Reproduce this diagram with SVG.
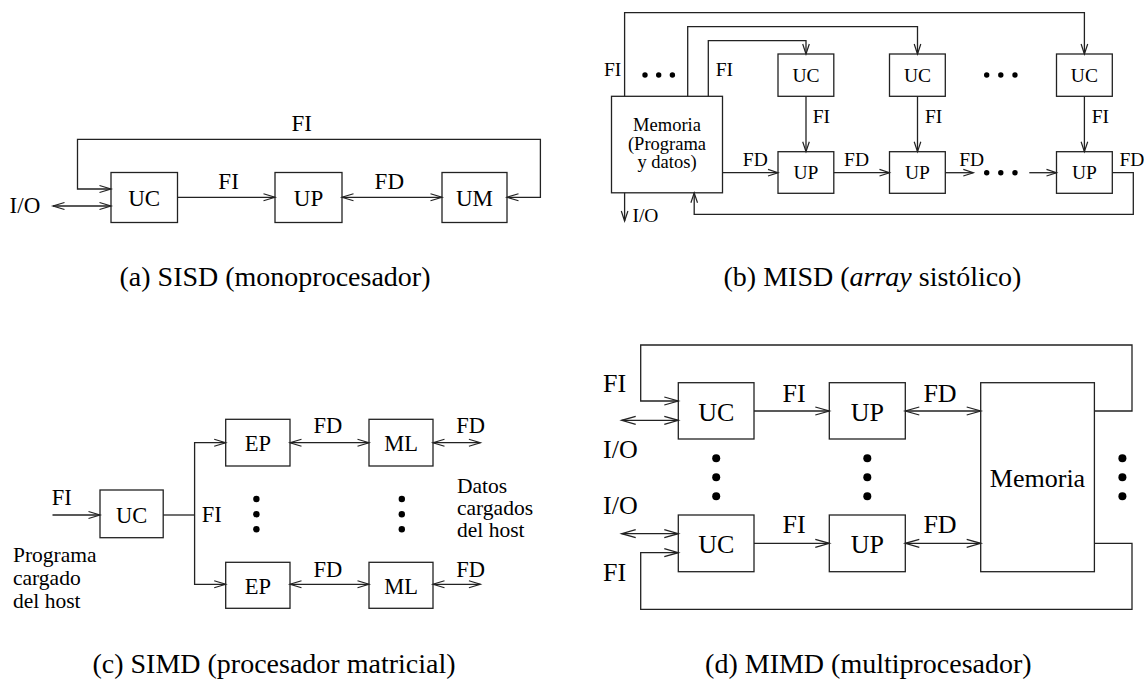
<svg xmlns="http://www.w3.org/2000/svg" width="1144" height="679" viewBox="0 0 1144 679" font-family="'Liberation Serif', 'Times New Roman', 'DejaVu Serif', serif">
<style>
.box{fill:#fff;stroke:#222;stroke-width:1.3}
.ln{fill:none;stroke:#222;stroke-width:1.3}
text{font-family:'Liberation Serif','Times New Roman','DejaVu Serif',serif;fill:#000}
.m{text-anchor:middle}
.ta{font-size:23px}
.tb{font-size:19.5px}
.tm{font-size:18.5px}
.tc{font-size:22.5px}
.ts{font-size:21.5px}
.td{font-size:26px}
.cap{font-size:28px;text-anchor:middle}
.dot{fill:#000}
.aa{marker-end:url(#am)}
.a2{marker-start:url(#am);marker-end:url(#am)}
.ba{marker-end:url(#as)}
.da{marker-end:url(#al)}
.d2{marker-start:url(#al);marker-end:url(#al)}
</style>
<defs>
<marker id="as" markerUnits="userSpaceOnUse" markerWidth="12" markerHeight="8" refX="0" refY="0" orient="auto-start-reverse" overflow="visible"><path d="M-10,-3.3 L0,0 L-10,3.3" fill="none" stroke="#222" stroke-width="1.2"/></marker>
<marker id="am" markerUnits="userSpaceOnUse" markerWidth="13" markerHeight="8" refX="0" refY="0" orient="auto-start-reverse" overflow="visible"><path d="M-11.5,-3.5 L0,0 L-11.5,3.5" fill="none" stroke="#222" stroke-width="1.2"/></marker>
<marker id="al" markerUnits="userSpaceOnUse" markerWidth="16" markerHeight="10" refX="0" refY="0" orient="auto-start-reverse" overflow="visible"><path d="M-14,-4 L0,0 L-14,4" fill="none" stroke="#222" stroke-width="1.3"/></marker>
</defs>

<!-- (a) SISD -->
<g id="a-uc"><rect class="box" x="111" y="172.5" width="66.5" height="50"/><text class="ta m" x="144.2" y="206">UC</text></g>
<g id="a-up"><rect class="box" x="275" y="172.5" width="67" height="50"/><text class="ta m" x="308.5" y="206">UP</text></g>
<g id="a-um"><rect class="box" x="442" y="172.5" width="65" height="50"/><text class="ta m" x="474.5" y="206">UM</text></g>
<g id="a-connectors">
<line class="ln a2" x1="53" y1="206" x2="111" y2="206"/>
<path class="ln a2" d="M111,189 H77.5 V139.3 H540.4 V197.3 H507"/>
<line class="ln aa" x1="177.5" y1="197.3" x2="275" y2="197.3"/>
<line class="ln a2" x1="342" y1="197.3" x2="442" y2="197.3"/>
</g>
<g id="a-labels">
<text class="ta" x="9.6" y="213.3">I/O</text>
<text class="ta m" x="301.8" y="130.7">FI</text>
<text class="ta m" x="228.6" y="189.3">FI</text>
<text class="ta m" x="389.3" y="189.3">FD</text>
</g>
<text class="cap" x="275" y="285.7">(a) SISD (monoprocesador)</text>

<!-- (b) MISD -->
<g id="b-mem"><rect class="box" x="611.5" y="96.3" width="111" height="96.5"/>
<text class="tm m" x="667" y="130.5">Memoria</text>
<text class="tm m" x="667" y="149.5">(Programa</text>
<text class="tm m" x="667" y="168">y datos)</text></g>
<g id="b-uc1"><rect class="box" x="778" y="54" width="55.8" height="42.3"/><text class="tb m" x="806" y="81.7">UC</text></g>
<g id="b-uc2"><rect class="box" x="889.5" y="54" width="55.8" height="42.3"/><text class="tb m" x="917.5" y="81.7">UC</text></g>
<g id="b-uc3"><rect class="box" x="1056.5" y="54" width="55.8" height="42.3"/><text class="tb m" x="1084.4" y="81.7">UC</text></g>
<g id="b-up1"><rect class="box" x="778" y="151.7" width="55.8" height="41.6"/><text class="tb m" x="806" y="179.3">UP</text></g>
<g id="b-up2"><rect class="box" x="889.5" y="151.7" width="55.8" height="41.6"/><text class="tb m" x="917.5" y="179.3">UP</text></g>
<g id="b-up3"><rect class="box" x="1056.5" y="151.7" width="55.8" height="41.6"/><text class="tb m" x="1084.4" y="179.3">UP</text></g>
<g id="b-connectors">
<path class="ln ba" d="M624.6,96.3 V12.7 H1084.4 V54"/>
<path class="ln ba" d="M687.7,96.3 V26.7 H917.5 V54"/>
<path class="ln ba" d="M708.3,96.3 V40.7 H806 V54"/>
<line class="ln ba" x1="806" y1="96.3" x2="806" y2="151.7"/>
<line class="ln ba" x1="917.5" y1="96.3" x2="917.5" y2="151.7"/>
<line class="ln ba" x1="1084.4" y1="96.3" x2="1084.4" y2="151.7"/>
<line class="ln ba" x1="722.5" y1="172.7" x2="778" y2="172.7"/>
<line class="ln ba" x1="833.8" y1="172.7" x2="889.5" y2="172.7"/>
<line class="ln ba" x1="945.3" y1="172.7" x2="973.3" y2="172.7"/>
<line class="ln ba" x1="1029.3" y1="172.7" x2="1056.5" y2="172.7"/>
<path class="ln ba" d="M1112.3,172.7 H1133.3 V214.3 H694.2 V192.8"/>
<line class="ln ba" x1="624.6" y1="192.8" x2="624.6" y2="221"/>
</g>
<g id="b-labels">
<text class="tb" x="604" y="75.7">FI</text>
<text class="tb" x="715.7" y="75.7">FI</text>
<circle class="dot" cx="645" cy="75" r="2.7"/><circle class="dot" cx="658.7" cy="75" r="2.7"/><circle class="dot" cx="672.4" cy="75" r="2.7"/>
<circle class="dot" cx="986.7" cy="75" r="2.7"/><circle class="dot" cx="1000.8" cy="75" r="2.7"/><circle class="dot" cx="1015" cy="75" r="2.7"/>
<circle class="dot" cx="986.7" cy="172.7" r="2.7"/><circle class="dot" cx="1000.8" cy="172.7" r="2.7"/><circle class="dot" cx="1015" cy="172.7" r="2.7"/>
<text class="tb" x="812.7" y="123.3">FI</text>
<text class="tb" x="925" y="123.3">FI</text>
<text class="tb" x="1091.7" y="123.3">FI</text>
<text class="tb m" x="755.3" y="166">FD</text>
<text class="tb m" x="856.5" y="166">FD</text>
<text class="tb m" x="971.7" y="166">FD</text>
<text class="tb" x="1119.5" y="166">FD</text>
<text class="tb" x="632.4" y="221.5">I/O</text>
</g>
<text class="cap" x="872.5" y="285.7">(b) MISD (<tspan font-style="italic">array</tspan> sistólico)</text>

<!-- (c) SIMD -->
<g id="c-uc"><rect class="box" x="100" y="490" width="63.2" height="47.7"/><text class="tc m" x="131.6" y="523">UC</text></g>
<g id="c-ep1"><rect class="box" x="225.7" y="419.3" width="64.3" height="46.7"/><text class="tc m" x="257.9" y="450.5">EP</text></g>
<g id="c-ep2"><rect class="box" x="225.7" y="562.3" width="64.3" height="46"/><text class="tc m" x="257.9" y="593.5">EP</text></g>
<g id="c-ml1"><rect class="box" x="369" y="419.3" width="64" height="46.7"/><text class="tc m" x="401" y="450.5">ML</text></g>
<g id="c-ml2"><rect class="box" x="369" y="562.3" width="64" height="46"/><text class="tc m" x="401" y="593.5">ML</text></g>
<g id="c-connectors">
<line class="ln aa" x1="52.5" y1="515" x2="100" y2="515"/>
<line class="ln" x1="163.2" y1="515" x2="194.6" y2="515"/>
<path class="ln a2" d="M225.7,442.7 H194.6 V584.3 H225.7"/>
<line class="ln a2" x1="290" y1="442.7" x2="369" y2="442.7"/>
<line class="ln a2" x1="290" y1="584.3" x2="369" y2="584.3"/>
<line class="ln a2" x1="433" y1="442.7" x2="480.4" y2="442.7"/>
<line class="ln a2" x1="433" y1="584.3" x2="480.4" y2="584.3"/>
</g>
<g id="c-labels">
<text class="tc" x="51.8" y="505">FI</text>
<text class="tc" x="201.8" y="521.7">FI</text>
<text class="tc m" x="327.9" y="433.3">FD</text>
<text class="tc m" x="327.9" y="576.7">FD</text>
<text class="tc m" x="470.7" y="433.3">FD</text>
<text class="tc m" x="470.7" y="576.7">FD</text>
<circle class="dot" cx="256.4" cy="499" r="3.2"/><circle class="dot" cx="256.4" cy="514.2" r="3.2"/><circle class="dot" cx="256.4" cy="529.3" r="3.2"/>
<circle class="dot" cx="401.8" cy="499" r="3.2"/><circle class="dot" cx="401.8" cy="514.2" r="3.2"/><circle class="dot" cx="401.8" cy="529.3" r="3.2"/>
<text class="ts" x="457" y="492.7">Datos</text>
<text class="ts" x="457" y="514.7">cargados</text>
<text class="ts" x="457" y="537">del host</text>
<text class="ts" x="13" y="561.5">Programa</text>
<text class="ts" x="13" y="585">cargado</text>
<text class="ts" x="13" y="608.3">del host</text>
</g>
<text class="cap" x="274" y="672.7">(c) SIMD (procesador matricial)</text>

<!-- (d) MIMD -->
<g id="d-uc1"><rect class="box" x="678.3" y="382.7" width="75.7" height="56.3"/><text class="td m" x="716.2" y="421">UC</text></g>
<g id="d-up1"><rect class="box" x="829.3" y="382.7" width="76" height="56.3"/><text class="td m" x="867.3" y="421">UP</text></g>
<g id="d-uc2"><rect class="box" x="678.3" y="515" width="75.7" height="56.7"/><text class="td m" x="716.2" y="553">UC</text></g>
<g id="d-up2"><rect class="box" x="829.3" y="515" width="76" height="56.7"/><text class="td m" x="867.3" y="553">UP</text></g>
<g id="d-mem"><rect class="box" x="980.7" y="382.7" width="113.7" height="189"/><text class="td m" x="1037.5" y="486.7">Memoria</text></g>
<g id="d-connectors">
<path class="ln da" d="M1094.4,411 H1132 V345 H640.7 V401 H678.3"/>
<line class="ln d2" x1="621.7" y1="420.3" x2="678.3" y2="420.3"/>
<line class="ln da" x1="754" y1="411" x2="829.3" y2="411"/>
<line class="ln d2" x1="905.3" y1="411" x2="980.7" y2="411"/>
<line class="ln d2" x1="621.7" y1="533.7" x2="678.3" y2="533.7"/>
<line class="ln da" x1="754" y1="543.3" x2="829.3" y2="543.3"/>
<line class="ln d2" x1="905.3" y1="543.3" x2="980.7" y2="543.3"/>
<path class="ln da" d="M1094.4,543.3 H1132 V609.3 H640.7 V552.7 H678.3"/>
</g>
<g id="d-labels">
<text class="td" x="603" y="391.7">FI</text>
<text class="td m" x="794" y="401.7">FI</text>
<text class="td m" x="940" y="401.7">FD</text>
<text class="td" x="603" y="457.7">I/O</text>
<text class="td" x="603" y="514.3">I/O</text>
<text class="td m" x="794" y="533.3">FI</text>
<text class="td m" x="940" y="533.3">FD</text>
<text class="td" x="603" y="581">FI</text>
<circle class="dot" cx="716.2" cy="458.3" r="4"/><circle class="dot" cx="716.2" cy="477.3" r="4"/><circle class="dot" cx="716.2" cy="496.2" r="4"/>
<circle class="dot" cx="867.3" cy="458.3" r="4"/><circle class="dot" cx="867.3" cy="477.3" r="4"/><circle class="dot" cx="867.3" cy="496.2" r="4"/>
<circle class="dot" cx="1122.4" cy="458.3" r="4"/><circle class="dot" cx="1122.4" cy="477.3" r="4"/><circle class="dot" cx="1122.4" cy="496.2" r="4"/>
</g>
<text class="cap" x="868.4" y="672.7">(d) MIMD (multiprocesador)</text>
</svg>
